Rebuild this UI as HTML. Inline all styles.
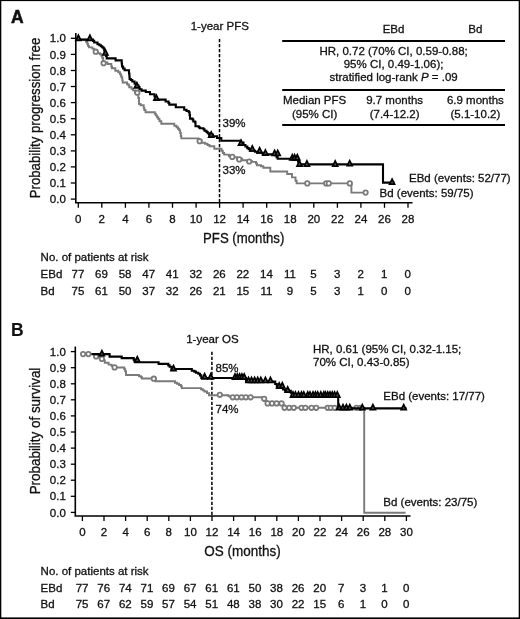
<!DOCTYPE html>
<html><head><meta charset="utf-8"><style>
html,body{margin:0;padding:0;background:#fff;}
svg{display:block;will-change:transform;}
text{font-family:"Liberation Sans", sans-serif;fill:#111;stroke:#111;stroke-width:0.3px;}
.t{font-size:11.5px;}
.tl{font-size:11.5px;}
.at{font-size:15px;}
.big{font-size:17.5px;font-weight:bold;stroke-width:0.7px;}
.ax{fill:none;stroke:#000;stroke-width:1.6;}
.tk{fill:none;stroke:#000;stroke-width:1.3;}
.rule{fill:none;stroke:#000;stroke-width:1.9;}
.dash{fill:none;stroke:#000;stroke-width:1.5;stroke-dasharray:3.3 1.7;}
.bl{fill:none;stroke:#000;stroke-width:2.1;}
.gl{fill:none;stroke:#7a7a7a;stroke-width:1.9;}
.tri{fill:#555;stroke:#000;stroke-width:1.7;stroke-linejoin:miter;}
.cir{fill:#fff;stroke:#7a7a7a;stroke-width:1.8;}
</style></head><body>
<svg width="520" height="619" viewBox="0 0 520 619">
<rect x="0" y="0" width="520" height="619" fill="#fff"/>
<path d="M75.8,33 V202.8 H412.5" class="ax"/>
<path d="M70.8,38.3 H75.8" class="tk"/>
<text x="65.8" y="42.4" text-anchor="end" class="tl">1.0</text>
<path d="M70.8,54.4 H75.8" class="tk"/>
<text x="65.8" y="58.5" text-anchor="end" class="tl">0.9</text>
<path d="M70.8,70.5 H75.8" class="tk"/>
<text x="65.8" y="74.6" text-anchor="end" class="tl">0.8</text>
<path d="M70.8,86.5 H75.8" class="tk"/>
<text x="65.8" y="90.6" text-anchor="end" class="tl">0.7</text>
<path d="M70.8,102.6 H75.8" class="tk"/>
<text x="65.8" y="106.7" text-anchor="end" class="tl">0.6</text>
<path d="M70.8,118.7 H75.8" class="tk"/>
<text x="65.8" y="122.8" text-anchor="end" class="tl">0.5</text>
<path d="M70.8,134.8 H75.8" class="tk"/>
<text x="65.8" y="138.9" text-anchor="end" class="tl">0.4</text>
<path d="M70.8,150.9 H75.8" class="tk"/>
<text x="65.8" y="155.0" text-anchor="end" class="tl">0.3</text>
<path d="M70.8,166.9 H75.8" class="tk"/>
<text x="65.8" y="171.0" text-anchor="end" class="tl">0.2</text>
<path d="M70.8,183.0 H75.8" class="tk"/>
<text x="65.8" y="187.1" text-anchor="end" class="tl">0.1</text>
<path d="M70.8,199.1 H75.8" class="tk"/>
<text x="65.8" y="203.2" text-anchor="end" class="tl">0.0</text>
<path d="M78.3,202.8 V207.8" class="tk"/>
<text x="78.3" y="222.6" text-anchor="middle" class="tl">0</text>
<path d="M101.8,202.8 V207.8" class="tk"/>
<text x="101.8" y="222.6" text-anchor="middle" class="tl">2</text>
<path d="M125.4,202.8 V207.8" class="tk"/>
<text x="125.4" y="222.6" text-anchor="middle" class="tl">4</text>
<path d="M148.9,202.8 V207.8" class="tk"/>
<text x="148.9" y="222.6" text-anchor="middle" class="tl">6</text>
<path d="M172.5,202.8 V207.8" class="tk"/>
<text x="172.5" y="222.6" text-anchor="middle" class="tl">8</text>
<path d="M196.1,202.8 V207.8" class="tk"/>
<text x="196.1" y="222.6" text-anchor="middle" class="tl">10</text>
<path d="M219.6,202.8 V207.8" class="tk"/>
<text x="219.6" y="222.6" text-anchor="middle" class="tl">12</text>
<path d="M243.1,202.8 V207.8" class="tk"/>
<text x="243.1" y="222.6" text-anchor="middle" class="tl">14</text>
<path d="M266.7,202.8 V207.8" class="tk"/>
<text x="266.7" y="222.6" text-anchor="middle" class="tl">16</text>
<path d="M290.2,202.8 V207.8" class="tk"/>
<text x="290.2" y="222.6" text-anchor="middle" class="tl">18</text>
<path d="M313.8,202.8 V207.8" class="tk"/>
<text x="313.8" y="222.6" text-anchor="middle" class="tl">20</text>
<path d="M337.4,202.8 V207.8" class="tk"/>
<text x="337.4" y="222.6" text-anchor="middle" class="tl">22</text>
<path d="M360.9,202.8 V207.8" class="tk"/>
<text x="360.9" y="222.6" text-anchor="middle" class="tl">24</text>
<path d="M384.5,202.8 V207.8" class="tk"/>
<text x="384.5" y="222.6" text-anchor="middle" class="tl">26</text>
<path d="M408.0,202.8 V207.8" class="tk"/>
<text x="408.0" y="222.6" text-anchor="middle" class="tl">28</text>
<path d="M75.3,346.5 V516 H410.5" class="ax"/>
<path d="M70.8,351.6 H75.3" class="tk"/>
<text x="65.8" y="355.7" text-anchor="end" class="tl">1.0</text>
<path d="M70.8,367.7 H75.3" class="tk"/>
<text x="65.8" y="371.8" text-anchor="end" class="tl">0.9</text>
<path d="M70.8,383.8 H75.3" class="tk"/>
<text x="65.8" y="387.9" text-anchor="end" class="tl">0.8</text>
<path d="M70.8,399.8 H75.3" class="tk"/>
<text x="65.8" y="403.9" text-anchor="end" class="tl">0.7</text>
<path d="M70.8,415.9 H75.3" class="tk"/>
<text x="65.8" y="420.0" text-anchor="end" class="tl">0.6</text>
<path d="M70.8,432.0 H75.3" class="tk"/>
<text x="65.8" y="436.1" text-anchor="end" class="tl">0.5</text>
<path d="M70.8,448.1 H75.3" class="tk"/>
<text x="65.8" y="452.2" text-anchor="end" class="tl">0.4</text>
<path d="M70.8,464.2 H75.3" class="tk"/>
<text x="65.8" y="468.3" text-anchor="end" class="tl">0.3</text>
<path d="M70.8,480.2 H75.3" class="tk"/>
<text x="65.8" y="484.3" text-anchor="end" class="tl">0.2</text>
<path d="M70.8,496.3 H75.3" class="tk"/>
<text x="65.8" y="500.4" text-anchor="end" class="tl">0.1</text>
<path d="M70.8,512.4 H75.3" class="tk"/>
<text x="65.8" y="516.5" text-anchor="end" class="tl">0.0</text>
<path d="M82.4,516 V521" class="tk"/>
<text x="82.4" y="535.8" text-anchor="middle" class="tl">0</text>
<path d="M104.0,516 V521" class="tk"/>
<text x="104.0" y="535.8" text-anchor="middle" class="tl">2</text>
<path d="M125.6,516 V521" class="tk"/>
<text x="125.6" y="535.8" text-anchor="middle" class="tl">4</text>
<path d="M147.2,516 V521" class="tk"/>
<text x="147.2" y="535.8" text-anchor="middle" class="tl">6</text>
<path d="M168.8,516 V521" class="tk"/>
<text x="168.8" y="535.8" text-anchor="middle" class="tl">8</text>
<path d="M190.4,516 V521" class="tk"/>
<text x="190.4" y="535.8" text-anchor="middle" class="tl">10</text>
<path d="M212.0,516 V521" class="tk"/>
<text x="212.0" y="535.8" text-anchor="middle" class="tl">12</text>
<path d="M233.6,516 V521" class="tk"/>
<text x="233.6" y="535.8" text-anchor="middle" class="tl">14</text>
<path d="M255.2,516 V521" class="tk"/>
<text x="255.2" y="535.8" text-anchor="middle" class="tl">16</text>
<path d="M276.8,516 V521" class="tk"/>
<text x="276.8" y="535.8" text-anchor="middle" class="tl">18</text>
<path d="M298.4,516 V521" class="tk"/>
<text x="298.4" y="535.8" text-anchor="middle" class="tl">20</text>
<path d="M320.0,516 V521" class="tk"/>
<text x="320.0" y="535.8" text-anchor="middle" class="tl">22</text>
<path d="M341.6,516 V521" class="tk"/>
<text x="341.6" y="535.8" text-anchor="middle" class="tl">24</text>
<path d="M363.2,516 V521" class="tk"/>
<text x="363.2" y="535.8" text-anchor="middle" class="tl">26</text>
<path d="M384.8,516 V521" class="tk"/>
<text x="384.8" y="535.8" text-anchor="middle" class="tl">28</text>
<path d="M406.4,516 V521" class="tk"/>
<text x="406.4" y="535.8" text-anchor="middle" class="tl">30</text>
<path d="M219.5,38.9 V202" class="dash"/>
<path d="M211.9,351.8 V515" class="dash"/>
<path d="M75.8,39.7 H86 V41.7 H87.2 V43.8 H88 V45.9 H89 V47.4 H92.3 V48.6 H94 V50.5 H95.7 V51.7 H97.5 V53.3 H100 V54.3 H101.5 V55.8 H102.2 V57.8 H103.2 V62.5 H107.5 V64 H111.3 V66.5 H112 V68.3 H115.3 V70.8 H118.3 V72.2 H120 V74 H120.8 V75.8 H121.5 V77.5 H122.3 V80.4 H122.7 V82.5 H127.1 V84.2 H128.5 V85.4 H129.2 V87.3 H131.5 V88.8 H133.1 V90.4 H135 V92.6 H138.3 V98 H139 V104 H140.6 V105.2 H143.7 V107.7 H144.3 V110 H145.5 V112.3 H154.8 V113.7 H155.8 V115.4 H157 V117.3 H158.3 V119 H159.5 V121.2 H161.3 V123.7 H174.3 V125.8 H176.5 V127.3 H178 V128.8 H179.2 V130.4 H180.2 V133 H180.8 V136 H181.3 V138.4 H198.5 V140.5 H201.5 V142.8 H205 V143.8 H207.5 V145 H209.5 V146.2 H214.3 V148.7 H221.5 V150.8 H222.8 V153 H224.2 V154.6 H229 V156.2 H233 V157.3 H237 V158.8 H242 V160.2 H247 V161.2 H252 V161.9 H256 V163.5 H257 V165.3 H261 V166.3 H263.3 V167.8 H270.3 V171.5 H287.2 V174 H292 V177.4 H295.5 V180.8 H296.6 V183.4 H351.4 V192.6 H365.6" class="gl"/>
<path d="M75.8,39.6 H93 V40.9 H94.2 V42.5 H97.5 V44.2 H99.4 V45.3 H100.9 V46.3 H102.2 V47.3 H103.4 V48.3 H104.2 V50.5 H105.2 V53 H106 V56 H106.7 V58.4 H115.6 V60.4 H121.7 V63.5 H122 V66.5 H123.1 V68.5 H124.6 V70.3 H129 V73.5 H129.4 V76.5 H129.6 V79 H130.8 V80 H132.3 V81.5 H134.6 V83.8 H136.9 V85.6 H138.5 V87 H139.5 V89.2 H141.5 V90.6 H145.8 V92 H150 V94.3 H154.5 V96.5 H156 V99.6 H165.6 V101.5 H168.5 V103 H169.3 V104.6 H175.8 V107.3 H184.2 V109.8 H186.5 V111 H188.8 V112.2 H189.6 V115 H190 V118.6 H192.5 V119.5 H193.3 V121.5 H195.2 V122.5 H195.5 V126.3 H198.8 V127.2 H199.8 V128.3 H203.5 V129.3 H204.5 V130.8 H206.5 V132 H207.7 V133.3 H209 V134.6 H213 V136.3 H217 V138 H221.3 V140.8 H241 V142.5 H243.5 V145 H245.4 V146.5 H247.3 V148.1 H248.8 V149.3 H250.4 V150.8 H255 V151.7 H257.3 V152.7 H262.7 V154.4 H276.6 V157.3 H277.7 V158.8 H298 V161.5 H298.6 V164.4 H383 V182.6 H394.5" class="bl"/>
<circle cx="95.7" cy="51.7" r="2.2" class="cir"/>
<circle cx="103.6" cy="63.2" r="2.2" class="cir"/>
<circle cx="137.3" cy="92.7" r="2.2" class="cir"/>
<circle cx="199.6" cy="141.2" r="2.2" class="cir"/>
<circle cx="232.3" cy="156.9" r="2.2" class="cir"/>
<circle cx="239.2" cy="159.4" r="2.2" class="cir"/>
<circle cx="249.2" cy="161.5" r="2.2" class="cir"/>
<circle cx="307.3" cy="183.4" r="2.2" class="cir"/>
<circle cx="326.2" cy="183.4" r="2.2" class="cir"/>
<circle cx="328.8" cy="183.4" r="2.2" class="cir"/>
<circle cx="349.8" cy="183.4" r="2.2" class="cir"/>
<circle cx="365.6" cy="192.6" r="2.2" class="cir"/>
<path d="M75.9,40.4 L78.4,35.3 L80.9,40.4 Z" class="tri"/>
<path d="M87.4,40.4 L89.9,35.3 L92.4,40.4 Z" class="tri"/>
<path d="M102.9,55.0 L105.4,49.9 L107.9,55.0 Z" class="tri"/>
<path d="M134.4,87.9 L136.9,82.8 L139.4,87.9 Z" class="tri"/>
<path d="M153.9,100.2 L156.4,95.1 L158.9,100.2 Z" class="tri"/>
<path d="M208.7,137.1 L211.2,132.0 L213.7,137.1 Z" class="tri"/>
<path d="M238.5,145.2 L241.0,140.1 L243.5,145.2 Z" class="tri"/>
<path d="M249.8,151.0 L252.3,145.9 L254.8,151.0 Z" class="tri"/>
<path d="M257.1,152.9 L259.6,147.8 L262.1,152.9 Z" class="tri"/>
<path d="M262.9,155.1 L265.4,150.0 L267.9,155.1 Z" class="tri"/>
<path d="M272.1,155.5 L274.6,150.4 L277.1,155.5 Z" class="tri"/>
<path d="M275.2,155.5 L277.7,150.4 L280.2,155.5 Z" class="tri"/>
<path d="M289.8,159.9 L292.3,154.8 L294.8,159.9 Z" class="tri"/>
<path d="M292.1,159.9 L294.6,154.8 L297.1,159.9 Z" class="tri"/>
<path d="M294.8,159.9 L297.3,154.8 L299.8,159.9 Z" class="tri"/>
<path d="M297.0,166.1 L299.5,161.0 L302.0,166.1 Z" class="tri"/>
<path d="M304.4,166.1 L306.9,161.0 L309.4,166.1 Z" class="tri"/>
<path d="M332.7,166.1 L335.2,161.0 L337.7,166.1 Z" class="tri"/>
<path d="M347.2,165.7 L349.7,160.6 L352.2,165.7 Z" class="tri"/>
<path d="M389.6,184.2 L392.1,179.1 L394.6,184.2 Z" class="tri"/>
<path d="M83.1,354.1 H94 V355.5 H96.1 V356.6 H99 V357.6 H101.9 V358.9 H103.8 V360.4 H104.8 V362.8 H108.6 V364.6 H111.5 V365.7 H113 V367.5 H124.3 V369.2 H125.2 V371.2 H126 V375 H139 V376.2 H141 V377 H141.8 V378.5 H155.5 V381.2 H175 V382.7 H177 V383.8 H179 V385 H181 V386.2 H181.8 V388.1 H201 V389.2 H202.8 V390.4 H204.4 V391.5 H207 V393.1 H209 V395.2 H228.5 V396.3 H230.5 V397.3 H264 V399.3 H265.8 V401 H267 V403.4 H283.3 V405.4 H285 V407.8 H364.2 V512.7 H405.6" class="gl"/>
<circle cx="83.1" cy="354.1" r="2.2" class="cir"/>
<circle cx="88.4" cy="354.1" r="2.2" class="cir"/>
<circle cx="96.1" cy="356.5" r="2.2" class="cir"/>
<circle cx="101.9" cy="358.9" r="2.2" class="cir"/>
<circle cx="114.6" cy="367.4" r="2.2" class="cir"/>
<circle cx="153.8" cy="378.7" r="2.2" class="cir"/>
<circle cx="219.8" cy="394.8" r="2.2" class="cir"/>
<circle cx="232.7" cy="397.3" r="2.2" class="cir"/>
<circle cx="236.9" cy="397.3" r="2.2" class="cir"/>
<circle cx="241.5" cy="397.3" r="2.2" class="cir"/>
<circle cx="245.8" cy="397.3" r="2.2" class="cir"/>
<circle cx="250.6" cy="397.3" r="2.2" class="cir"/>
<circle cx="264.2" cy="398.8" r="2.2" class="cir"/>
<circle cx="267.6" cy="403.4" r="2.2" class="cir"/>
<circle cx="272" cy="403.4" r="2.2" class="cir"/>
<circle cx="276.6" cy="403.4" r="2.2" class="cir"/>
<circle cx="281.5" cy="403.4" r="2.2" class="cir"/>
<circle cx="284.5" cy="407.8" r="2.2" class="cir"/>
<circle cx="289.2" cy="407.8" r="2.2" class="cir"/>
<circle cx="293.8" cy="407.8" r="2.2" class="cir"/>
<circle cx="301.5" cy="407.8" r="2.2" class="cir"/>
<circle cx="305.4" cy="407.8" r="2.2" class="cir"/>
<circle cx="311.5" cy="407.8" r="2.2" class="cir"/>
<circle cx="316.2" cy="407.8" r="2.2" class="cir"/>
<circle cx="327.7" cy="407.8" r="2.2" class="cir"/>
<circle cx="330.8" cy="407.8" r="2.2" class="cir"/>
<circle cx="334.6" cy="407.8" r="2.2" class="cir"/>
<circle cx="356.5" cy="407.8" r="2.2" class="cir"/>
<circle cx="360.4" cy="407.8" r="2.2" class="cir"/>
<path d="M91.5,354.1 H109.6 V356.6 H121.7 V358.1 H133.7 V359.6 H134.5 V361.2 H135.3 V362.3 H158.6 V363.9 H168.3 V365.4 H169.6 V366.8 H171.5 V369 H191.8 V370.8 H194.3 V371.6 H196 V372.7 H198.3 V373.8 H200 V375.4 H201.3 V378 H246 V381.5 H275.2 V384 H276.8 V386.5 H283 V389.5 H285 V390.8 H290.8 V392.7 H291.8 V395.8 H338.2 V408.4 H406.5" class="bl"/>
<path d="M99.4,355.7 L101.9,350.6 L104.4,355.7 Z" class="tri"/>
<path d="M134.8,361.9 L137.3,356.8 L139.8,361.9 Z" class="tri"/>
<path d="M171.0,370.7 L173.5,365.6 L176.0,370.7 Z" class="tri"/>
<path d="M202.1,378.9 L204.6,373.8 L207.1,378.9 Z" class="tri"/>
<path d="M208.3,378.9 L210.8,373.8 L213.3,378.9 Z" class="tri"/>
<path d="M232.5,379.1 L235.0,374.0 L237.5,379.1 Z" class="tri"/>
<path d="M234.8,379.1 L237.3,374.0 L239.8,379.1 Z" class="tri"/>
<path d="M237.1,379.1 L239.6,374.0 L242.1,379.1 Z" class="tri"/>
<path d="M239.4,379.1 L241.9,374.0 L244.4,379.1 Z" class="tri"/>
<path d="M241.7,379.1 L244.2,374.0 L246.7,379.1 Z" class="tri"/>
<path d="M246.0,382.5 L248.5,377.4 L251.0,382.5 Z" class="tri"/>
<path d="M249.0,382.5 L251.5,377.4 L254.0,382.5 Z" class="tri"/>
<path d="M252.1,382.5 L254.6,377.4 L257.1,382.5 Z" class="tri"/>
<path d="M255.2,382.5 L257.7,377.4 L260.2,382.5 Z" class="tri"/>
<path d="M258.3,382.5 L260.8,377.4 L263.3,382.5 Z" class="tri"/>
<path d="M262.9,382.5 L265.4,377.4 L267.9,382.5 Z" class="tri"/>
<path d="M267.9,382.5 L270.4,377.4 L272.9,382.5 Z" class="tri"/>
<path d="M276.7,388.1 L279.2,383.0 L281.7,388.1 Z" class="tri"/>
<path d="M279.8,387.9 L282.3,382.8 L284.8,387.9 Z" class="tri"/>
<path d="M285.2,392.1 L287.7,387.0 L290.2,392.1 Z" class="tri"/>
<path d="M290.5,397.1 L293.0,392.0 L295.5,397.1 Z" class="tri"/>
<path d="M292.9,397.1 L295.4,392.0 L297.9,397.1 Z" class="tri"/>
<path d="M296.0,397.1 L298.5,392.0 L301.0,397.1 Z" class="tri"/>
<path d="M299.0,397.1 L301.5,392.0 L304.0,397.1 Z" class="tri"/>
<path d="M301.3,397.1 L303.8,392.0 L306.3,397.1 Z" class="tri"/>
<path d="M305.2,397.1 L307.7,392.0 L310.2,397.1 Z" class="tri"/>
<path d="M307.5,397.1 L310.0,392.0 L312.5,397.1 Z" class="tri"/>
<path d="M310.5,397.1 L313.0,392.0 L315.5,397.1 Z" class="tri"/>
<path d="M312.9,397.1 L315.4,392.0 L317.9,397.1 Z" class="tri"/>
<path d="M315.2,397.1 L317.7,392.0 L320.2,397.1 Z" class="tri"/>
<path d="M318.3,397.1 L320.8,392.0 L323.3,397.1 Z" class="tri"/>
<path d="M321.3,397.1 L323.8,392.0 L326.3,397.1 Z" class="tri"/>
<path d="M322.9,397.1 L325.4,392.0 L327.9,397.1 Z" class="tri"/>
<path d="M325.2,397.1 L327.7,392.0 L330.2,397.1 Z" class="tri"/>
<path d="M327.5,397.1 L330.0,392.0 L332.5,397.1 Z" class="tri"/>
<path d="M329.8,397.1 L332.3,392.0 L334.8,397.1 Z" class="tri"/>
<path d="M332.1,397.1 L334.6,392.0 L337.1,397.1 Z" class="tri"/>
<path d="M334.8,397.1 L337.3,392.0 L339.8,397.1 Z" class="tri"/>
<path d="M336.7,409.7 L339.2,404.6 L341.7,409.7 Z" class="tri"/>
<path d="M340.5,409.7 L343.0,404.6 L345.5,409.7 Z" class="tri"/>
<path d="M343.9,409.7 L346.4,404.6 L348.9,409.7 Z" class="tri"/>
<path d="M347.3,409.7 L349.8,404.6 L352.3,409.7 Z" class="tri"/>
<path d="M359.8,409.7 L362.3,404.6 L364.8,409.7 Z" class="tri"/>
<path d="M370.4,409.7 L372.9,404.6 L375.4,409.7 Z" class="tri"/>
<path d="M401.2,409.7 L403.7,404.6 L406.2,409.7 Z" class="tri"/>
<text x="11" y="23" class="big" style="stroke-width:0.55px">A</text>
<text x="11.1" y="336.4" class="big" style="stroke-width:0.1px">B</text>
<text x="0" y="0" class="at" transform="translate(40.3,118) rotate(-90) scale(0.88,1)" text-anchor="middle">Probability progression free</text>
<text x="0" y="0" class="at" transform="translate(40.3,431) rotate(-90) scale(0.895,1)" text-anchor="middle">Probability of survival</text>
<text x="0" y="0" class="at" transform="translate(243.7,242.5) scale(0.88,1)" text-anchor="middle">PFS (months)</text>
<text x="0" y="0" class="at" transform="translate(242.5,555.8) scale(0.9,1)" text-anchor="middle">OS (months)</text>
<text x="219.8" y="30" text-anchor="middle" class="t">1-year PFS</text>
<text x="212.4" y="343.2" text-anchor="middle" class="t">1-year OS</text>
<text x="222.5" y="127" class="t">39%</text>
<text x="222.5" y="174.4" class="t">33%</text>
<text x="215.5" y="371.7" class="t">85%</text>
<text x="215.5" y="412.7" class="t">74%</text>
<text x="409" y="181.7" class="t">EBd (events: 52/77)</text>
<text x="379.6" y="196.9" class="t">Bd (events: 59/75)</text>
<text x="383.3" y="400.4" class="t">EBd (events: 17/77)</text>
<text x="383.3" y="505.6" class="t">Bd (events: 23/75)</text>
<text x="313" y="353" class="t">HR, 0.61 (95% CI, 0.32-1.15;</text>
<text x="313" y="366" class="t">70% CI, 0.43-0.85)</text>
<text x="393.5" y="32.5" text-anchor="middle" class="t">EBd</text>
<text x="475.4" y="32.5" text-anchor="middle" class="t">Bd</text>
<path d="M282.2,41 H505" class="rule"/>
<text x="393.6" y="54.8" text-anchor="middle" class="t">HR, 0.72 (70% CI, 0.59-0.88;</text>
<text x="393.6" y="68.1" text-anchor="middle" class="t">95% CI, 0.49-1.06);</text>
<text x="393.6" y="80.9" text-anchor="middle" class="t">stratified log-rank <tspan font-style="italic">P</tspan> = .09</text>
<path d="M282.2,90 H505" class="rule"/>
<text x="314.6" y="104.2" text-anchor="middle" class="t">Median PFS</text>
<text x="314.6" y="117.7" text-anchor="middle" class="t">(95% CI)</text>
<text x="394.6" y="104.2" text-anchor="middle" class="t">9.7 months</text>
<text x="394.6" y="117.7" text-anchor="middle" class="t">(7.4-12.2)</text>
<text x="475.4" y="104.2" text-anchor="middle" class="t">6.9 months</text>
<text x="475.4" y="117.7" text-anchor="middle" class="t">(5.1-10.2)</text>
<path d="M282.2,125 H505" class="rule"/>
<text x="40.6" y="261.2" class="t">No. of patients at risk</text>
<text x="40.6" y="278.1" class="t">EBd</text>
<text x="40.6" y="295" class="t">Bd</text>
<text x="78.0" y="278.1" text-anchor="middle" class="t">77</text>
<text x="101.5" y="278.1" text-anchor="middle" class="t">69</text>
<text x="125.1" y="278.1" text-anchor="middle" class="t">58</text>
<text x="148.7" y="278.1" text-anchor="middle" class="t">47</text>
<text x="172.2" y="278.1" text-anchor="middle" class="t">41</text>
<text x="195.8" y="278.1" text-anchor="middle" class="t">32</text>
<text x="219.3" y="278.1" text-anchor="middle" class="t">26</text>
<text x="242.8" y="278.1" text-anchor="middle" class="t">22</text>
<text x="266.4" y="278.1" text-anchor="middle" class="t">14</text>
<text x="290.0" y="278.1" text-anchor="middle" class="t">11</text>
<text x="313.5" y="278.1" text-anchor="middle" class="t">5</text>
<text x="337.1" y="278.1" text-anchor="middle" class="t">3</text>
<text x="360.6" y="278.1" text-anchor="middle" class="t">2</text>
<text x="384.2" y="278.1" text-anchor="middle" class="t">1</text>
<text x="407.7" y="278.1" text-anchor="middle" class="t">0</text>
<text x="78.0" y="295" text-anchor="middle" class="t">75</text>
<text x="101.5" y="295" text-anchor="middle" class="t">61</text>
<text x="125.1" y="295" text-anchor="middle" class="t">50</text>
<text x="148.7" y="295" text-anchor="middle" class="t">37</text>
<text x="172.2" y="295" text-anchor="middle" class="t">32</text>
<text x="195.8" y="295" text-anchor="middle" class="t">26</text>
<text x="219.3" y="295" text-anchor="middle" class="t">21</text>
<text x="242.8" y="295" text-anchor="middle" class="t">15</text>
<text x="266.4" y="295" text-anchor="middle" class="t">11</text>
<text x="290.0" y="295" text-anchor="middle" class="t">9</text>
<text x="313.5" y="295" text-anchor="middle" class="t">5</text>
<text x="337.1" y="295" text-anchor="middle" class="t">3</text>
<text x="360.6" y="295" text-anchor="middle" class="t">1</text>
<text x="384.2" y="295" text-anchor="middle" class="t">0</text>
<text x="407.7" y="295" text-anchor="middle" class="t">0</text>
<text x="40.6" y="574.6" class="t">No. of patients at risk</text>
<text x="40.6" y="591.5" class="t">EBd</text>
<text x="40.6" y="607.9" class="t">Bd</text>
<text x="82.1" y="591.5" text-anchor="middle" class="t">77</text>
<text x="103.7" y="591.5" text-anchor="middle" class="t">76</text>
<text x="125.3" y="591.5" text-anchor="middle" class="t">74</text>
<text x="146.9" y="591.5" text-anchor="middle" class="t">71</text>
<text x="168.5" y="591.5" text-anchor="middle" class="t">69</text>
<text x="190.1" y="591.5" text-anchor="middle" class="t">67</text>
<text x="211.7" y="591.5" text-anchor="middle" class="t">61</text>
<text x="233.3" y="591.5" text-anchor="middle" class="t">61</text>
<text x="254.9" y="591.5" text-anchor="middle" class="t">50</text>
<text x="276.5" y="591.5" text-anchor="middle" class="t">38</text>
<text x="298.1" y="591.5" text-anchor="middle" class="t">26</text>
<text x="319.7" y="591.5" text-anchor="middle" class="t">20</text>
<text x="341.3" y="591.5" text-anchor="middle" class="t">7</text>
<text x="362.9" y="591.5" text-anchor="middle" class="t">3</text>
<text x="384.5" y="591.5" text-anchor="middle" class="t">1</text>
<text x="406.1" y="591.5" text-anchor="middle" class="t">0</text>
<text x="82.1" y="607.9" text-anchor="middle" class="t">75</text>
<text x="103.7" y="607.9" text-anchor="middle" class="t">67</text>
<text x="125.3" y="607.9" text-anchor="middle" class="t">62</text>
<text x="146.9" y="607.9" text-anchor="middle" class="t">59</text>
<text x="168.5" y="607.9" text-anchor="middle" class="t">57</text>
<text x="190.1" y="607.9" text-anchor="middle" class="t">54</text>
<text x="211.7" y="607.9" text-anchor="middle" class="t">51</text>
<text x="233.3" y="607.9" text-anchor="middle" class="t">48</text>
<text x="254.9" y="607.9" text-anchor="middle" class="t">38</text>
<text x="276.5" y="607.9" text-anchor="middle" class="t">30</text>
<text x="298.1" y="607.9" text-anchor="middle" class="t">22</text>
<text x="319.7" y="607.9" text-anchor="middle" class="t">15</text>
<text x="341.3" y="607.9" text-anchor="middle" class="t">6</text>
<text x="362.9" y="607.9" text-anchor="middle" class="t">1</text>
<text x="384.5" y="607.9" text-anchor="middle" class="t">0</text>
<text x="406.1" y="607.9" text-anchor="middle" class="t">0</text>
<rect x="0" y="0" width="520" height="1.1" fill="#000"/><rect x="0" y="0" width="1.3" height="619" fill="#000"/><rect x="518.7" y="0" width="1.3" height="619" fill="#000"/><rect x="0" y="617.4" width="520" height="1.6" fill="#000"/>
</svg>
</body></html>
